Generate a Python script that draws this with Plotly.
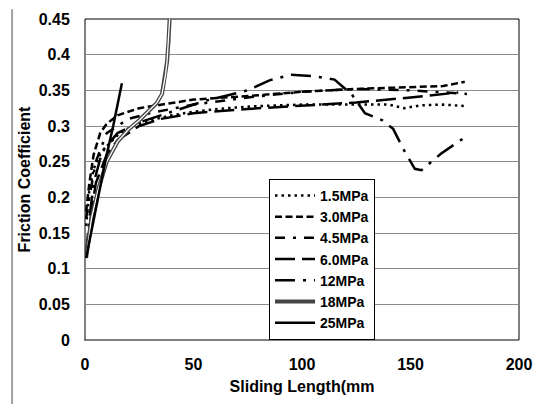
import plotly.graph_objects as go

# sliding length (mm) and friction coefficient per contact pressure
x_15 = [0.5, 2, 4, 7, 11, 16, 22, 30, 40, 50, 65, 80, 100, 120, 140, 147, 155, 165, 175]
y_15 = [0.16, 0.21, 0.24, 0.26, 0.275, 0.29, 0.3, 0.308, 0.315, 0.32, 0.325, 0.328, 0.33, 0.33, 0.33, 0.325, 0.329, 0.33, 0.328]

x_30 = [0.5, 2, 4, 7, 10, 15, 25, 35, 50, 75, 100, 125, 150, 165, 175]
y_30 = [0.18, 0.22, 0.26, 0.29, 0.303, 0.315, 0.325, 0.33, 0.337, 0.342, 0.348, 0.352, 0.355, 0.356, 0.362]

x_45 = [0.5, 2, 5, 10, 20, 30, 50, 75, 100, 125, 150, 176]
y_45 = [0.17, 0.2, 0.25, 0.29, 0.31, 0.318, 0.33, 0.34, 0.348, 0.352, 0.35, 0.345]

x_60 = [1, 3, 5, 10, 15, 25, 35, 50, 75, 100, 125, 150, 172]
y_60 = [0.13, 0.18, 0.22, 0.26, 0.28, 0.3, 0.31, 0.318, 0.324, 0.328, 0.333, 0.34, 0.347]

x_12 = [0.5, 2, 4, 8, 15, 25, 40, 55, 75, 85, 95, 105, 115, 123, 129, 137, 142, 147, 152, 155, 164, 169, 174]
y_12 = [0.12, 0.17, 0.22, 0.265, 0.29, 0.305, 0.32, 0.335, 0.35, 0.364, 0.372, 0.37, 0.365, 0.344, 0.318, 0.308, 0.296, 0.266, 0.24, 0.238, 0.261, 0.272, 0.282]

x_18 = [0.5, 3, 6, 10, 15, 20, 25, 30, 33, 35.5, 37, 37.8, 38.5, 39]
y_18 = [0.115, 0.17, 0.21, 0.25, 0.278, 0.295, 0.308, 0.323, 0.332, 0.345, 0.37, 0.39, 0.42, 0.45]

x_25 = [0.5, 5, 10, 13, 17]
y_25 = [0.115, 0.185, 0.26, 0.3, 0.36]

y_ticks = [0, 0.05, 0.1, 0.15, 0.2, 0.25, 0.3, 0.35, 0.4, 0.45]
y_labels = ["0", "0.05", "0.1", "0.15", "0.2", "0.25", "0.3", "0.35", "0.4", "0.45"]
x_ticks = [0, 50, 100, 150, 200]

bold = dict(family="Liberation Sans, Arial", size=16, color="black", weight="bold")
legend_font = dict(family="Liberation Sans, Arial", size=14, color="black", weight="bold")

fig = go.Figure()
fig.add_trace(go.Scatter(x=x_15, y=y_15, mode="lines", name="1.5MPa",
                         line=dict(color="black", width=2.5, dash="2.5px,4px")))
fig.add_trace(go.Scatter(x=x_30, y=y_30, mode="lines", name="3.0MPa",
                         line=dict(color="black", width=2.5, dash="7px,3.5px")))
fig.add_trace(go.Scatter(x=x_45, y=y_45, mode="lines", name="4.5MPa",
                         line=dict(color="black", width=2.5, dash="10px,8px,3px,8px")))
fig.add_trace(go.Scatter(x=x_60, y=y_60, mode="lines", name="6.0MPa",
                         line=dict(color="black", width=2.5, dash="20px,7px")))
fig.add_trace(go.Scatter(x=x_12, y=y_12, mode="lines", name="12MPa",
                         line=dict(color="black", width=2.5, dash="20px,8px,3px,8px")))
fig.add_trace(go.Scatter(x=x_18, y=y_18, mode="lines", name="18MPa",
                         line=dict(color="#444444", width=4)))
fig.add_trace(go.Scatter(x=x_18, y=y_18, mode="lines", showlegend=False,
                         line=dict(color="white", width=1.3), hoverinfo="skip"))
fig.add_trace(go.Scatter(x=x_25, y=y_25, mode="lines", name="25MPa",
                         line=dict(color="black", width=2.5)))

# page body adds an 8px offset, so the figure is 8px smaller on each axis
frame = dict(color="#a0a0a0", width=2)
fig.update_layout(
    width=536, height=396,
    margin=dict(l=77, r=25, t=11, b=64),
    paper_bgcolor="white", plot_bgcolor="white",
    font=bold,
    showlegend=True,
    legend=dict(x=0.424, y=0.502, xanchor="left", yanchor="top",
                bgcolor="white", bordercolor="black", borderwidth=1,
                font=legend_font, tracegroupgap=0, itemwidth=40),
    shapes=[
        dict(type="line", xref="paper", yref="paper", x0=-0.168, x1=-0.168, y0=-0.2, y1=1.03,
             line=frame, layer="above"),
        dict(type="line", xref="paper", yref="paper", x0=1.05, x1=1.05, y0=-0.2, y1=1.03,
             line=frame, layer="above"),
        dict(type="rect", xref="paper", yref="paper", x0=0, x1=1, y0=0, y1=1,
             line=dict(color="black", width=1), layer="below"),
    ],
)
fig.update_xaxes(range=[0, 200], tickvals=x_ticks, showgrid=False, automargin=False,
                 zeroline=False, showline=True, linecolor="#808080", linewidth=1,
                 tickfont=bold, ticks="", ticklabelstandoff=10,
                 title=dict(text="Sliding Length(mm", font=bold, standoff=8))
fig.update_yaxes(range=[0, 0.45], tickvals=y_ticks, ticktext=y_labels, showgrid=True,
                 automargin=False, gridcolor="#8c8c8c", gridwidth=1, zeroline=False, showline=True,
                 linecolor="#808080", linewidth=1, tickfont=bold, ticks="", ticklabelstandoff=11,
                 title=dict(text="Friction Coefficient", font=bold, standoff=4))

fig.write_html("out.html")
